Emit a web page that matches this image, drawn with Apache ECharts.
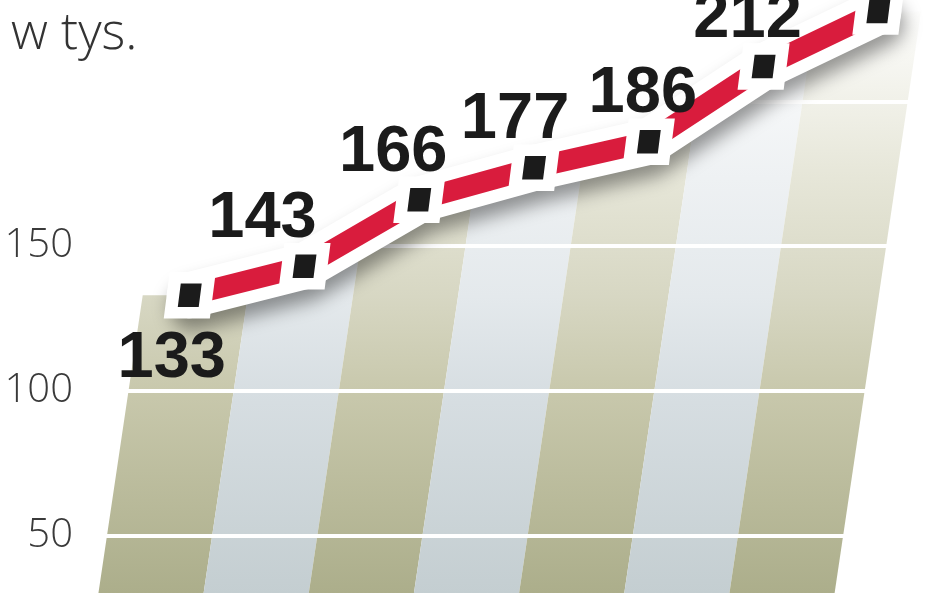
<!DOCTYPE html>
<html>
<head>
<meta charset="utf-8">
<script src="https://cdn.jsdelivr.net/npm/echarts@6/dist/echarts.min.js"></script>
<style>
  html, body { margin: 0; padding: 0; background: #fff; height: 593px; overflow: hidden; }
  /* wykres sięga poniżej kadru, tak jak w oryginale (oś 0 jest poza obrazem) */
  #chart { width: 948px; height: 680px; }
</style>
</head>
<body>
<div id="chart"></div>
<script>
// dane z wykresu (w tys.)
const periods = [0, 1, 2, 3, 4, 5, 6];
const values = [133, 143, 166, 177, 186, 212, 231];
const yTicks = [50, 100, 150];

// pochylenie "kolumn" w tle (jednostki osi x na jednostkę wartości)
const SHEAR = 0.00409;
// przesunięcia podpisów względem punktów (styl)
const labelNudge = [[-18, 64], [-42, -47], [-26, -47], [-19, -48], [-6, -48], [-16, -47], [-16, -47]];

const olive = ['#ffffff', '#e6e6d8', '#d7d7c3', '#c8c8ac', '#acae8b'];
const blue = ['#ffffff', '#eef1f3', '#e4e9ec', '#d7dee2', '#c4ced1'];
const stopAt = [0, 0.3, 0.5, 0.66, 1];

function stripeFill(cols) {
  return {
    type: 'linear', x: 0, y: 0, x2: 0, y2: 593, global: true,
    colorStops: cols.map((c, k) => ({ offset: stopAt[k], color: c }))
  };
}

var myChart = echarts.init(document.getElementById('chart'));
var option;

option = {
  backgroundColor: '#fff',
  animation: false,
  graphic: [{
    type: 'text',
    left: 11,
    top: 9,
    style: {
      text: 'w tys.',
      fontSize: 51,
      fontWeight: 300,
      fontFamily: 'Open Sans',
      fill: '#333'
    }
  }],
  grid: { left: 75, right: 18, top: 0, bottom: 0 },
  xAxis: [
    { type: 'value', min: -0.6, max: 7.53, show: false },
    { type: 'value', min: -1, max: 6.45, show: false }
  ],
  yAxis: {
    type: 'value',
    min: 0,
    max: 235,
    interval: 50,
    z: 3,
    axisLine: { show: false },
    axisTick: { show: false },
    splitLine: { lineStyle: { color: '#ffffff', width: 4 } },
    axisLabel: {
      margin: 2,
      fontSize: 40,
      fontWeight: 300,
      fontFamily: 'Open Sans',
      color: '#3a3a3a',
      formatter: function (v) { return yTicks.indexOf(v) >= 0 ? String(v) : ''; }
    }
  },
  series: [
    {
      // pochylone kolumny w tle
      type: 'custom',
      xAxisIndex: 0,
      z: 1,
      silent: true,
      data: periods.map((p, i) => [p, values[i]]),
      renderItem: function (params, api) {
        const i = params.dataIndex;
        const x = api.value(0);
        const v = api.value(1);
        const prev = i > 0 ? values[i - 1] : v;
        const next = i < values.length - 1 ? values[i + 1] : v;
        const lt = (prev + v) / 2;
        const rt = (v + next) / 2;
        const pts = [
          api.coord([x - 0.5, 0]),
          api.coord([x + 0.5, 0]),
          api.coord([x + 0.5 + SHEAR * rt, rt]),
          api.coord([x + SHEAR * v, v]),
          api.coord([x - 0.5 + SHEAR * lt, lt])
        ];
        return {
          type: 'polygon',
          shape: { points: pts },
          style: { fill: stripeFill(i % 2 === 0 ? olive : blue) }
        };
      }
    },
    {
      // biała obwódka linii z cieniem
      type: 'line',
      xAxisIndex: 1,
      z: 5,
      silent: true,
      symbol: 'none',
      data: periods.map((p, i) => [p, values[i]]),
      lineStyle: {
        color: '#ffffff',
        width: 46,
        cap: 'round',
        join: 'round',
        shadowColor: 'rgba(0,0,0,0.4)',
        shadowBlur: 18,
        shadowOffsetX: 3,
        shadowOffsetY: 12
      }
    },
    {
      type: 'line',
      xAxisIndex: 1,
      z: 6,
      data: periods.map((p, i) => ({
        value: [p, values[i]],
        label: { offset: labelNudge[i] }
      })),
      lineStyle: { color: '#d91c3d', width: 21, join: 'round' },
      symbol: 'path://M3.2,0L27.2,0L24,21L0,21Z',
      symbolSize: [38, 35],
      itemStyle: { color: '#1b1b1b', borderColor: '#ffffff', borderWidth: 12 },
      label: {
        show: true,
        position: 'inside',
        formatter: function (p) { return p.value[1]; },
        fontSize: 65,
        fontWeight: 'bold',
        fontFamily: 'Liberation Sans',
        color: '#1b1b1b'
      }
    }
  ]
};

option && myChart.setOption(option);
</script>
</body>
</html>
